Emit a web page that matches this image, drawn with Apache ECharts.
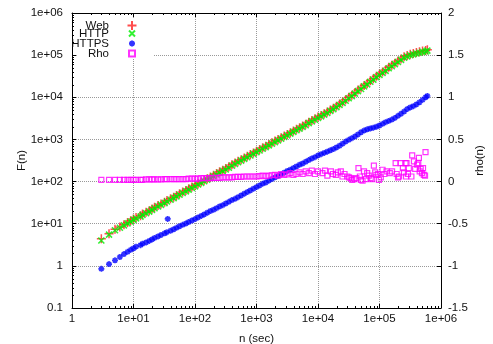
<!DOCTYPE html>
<html>
<head>
<meta charset="utf-8">
<script src="https://cdn.jsdelivr.net/npm/echarts@6/dist/echarts.min.js"></script>
<style>
html, body { margin: 0; padding: 0; background: #fff; }
#chart { width: 493px; height: 344px; }
</style>
</head>
<body>
<div id="chart"></div>
<script>
// n (sec), shared by Web / HTTP / HTTPS
var nValues = [3, 4, 5, 6, 7, 8, 9,
    10, 11, 13, 14, 16, 18, 20, 22, 25, 28, 32, 35, 40, 45, 50, 56, 63, 71, 79, 89,
    100, 112, 126, 141, 158, 178, 200, 224, 251, 282, 316, 355, 398, 447, 501, 562, 631, 708, 794, 891,
    1000, 1122, 1259, 1413, 1585, 1778, 1995, 2239, 2512, 2818, 3162, 3548, 3981, 4467, 5012, 5623, 6310, 7079, 7943, 8913,
    10000, 11220, 12589, 14125, 15849, 17783, 19953, 22387, 25119, 28184, 31623, 35481, 39811, 44668, 50119, 56234, 63096, 70795, 79433, 89125,
    100000, 112202, 125893, 141254, 158489, 177828, 199526, 223872, 251189, 281838, 316228, 354813, 398107, 446684, 501187, 562341, 600000];

var webF = [4.4, 5.8, 7.4, 8.3, 9.5, 10.7, 11.7,
    12.9, 14.1, 15.5, 17.0, 18.6, 20.4, 22.4, 24.5, 26.9, 29.5, 32.4, 35.5, 38.9, 42.7, 46.8, 51.3, 56.2, 61.7, 67.6, 74.1,
    81, 89, 98, 107, 117, 129, 141, 155, 170, 186, 204, 224, 251, 275, 302, 331, 363, 398, 437, 479,
    525, 575, 631, 692, 759, 832, 912, 1000, 1096, 1202, 1318, 1445, 1585, 1738, 1905, 2089, 2291, 2570, 2818, 3090,
    3388, 3715, 4074, 4467, 5012, 5495, 6166, 6918, 7762, 8710, 10000, 11220, 12880, 14790, 16600, 19050, 21380, 24550, 27540, 31620,
    35480, 39810, 44670, 51290, 57540, 64570, 72440, 81280, 91200, 97720, 104700, 109600, 114800, 120200, 125900, 128800, 134900];

var httpF = [4.0, 5.5, 7.0, 8.0, 9.1, 10.2, 11.2,
    12.3, 13.4, 14.7, 16.2, 17.7, 19.4, 21.3, 23.3, 25.6, 28.0, 30.8, 33.7, 37.0, 40.6, 44.5, 48.7, 53.4, 58.6, 64.2, 70.4,
    77, 85, 93, 102, 111, 123, 134, 147, 162, 177, 194, 213, 238, 261, 287, 314, 345, 378, 415, 455,
    499, 546, 599, 657, 721, 790, 866, 950, 1041, 1142, 1252, 1373, 1506, 1651, 1810, 1985, 2176, 2442, 2677, 2936,
    3219, 3529, 3870, 4244, 4761, 5220, 5858, 6572, 7374, 8275, 9500, 10660, 12240, 14050, 15770, 18100, 20310, 23320, 26160, 30040,
    33710, 37820, 42440, 48730, 54660, 61340, 68820, 77220, 86640, 92830, 99470, 104100, 109100, 114200, 119600, 122400, 128200];

var httpsF = [0.85, 1.1, 1.35, 1.62, 1.9, 2.15, 2.4,
    2.6, 2.85, 3.1, 3.35, 3.6, 3.9, 4.25, 4.6, 5.0, 5.4, 5.9, 6.3, 6.8, 7.4, 8.0, 8.7, 9.4, 10.1, 11.0, 11.9,
    12.9, 14.1, 15.3, 16.6, 18.2, 20.0, 21.4, 23.4, 25.7, 27.5, 30.2, 33.1, 36.3, 38.9, 42.7, 46.8, 51.3, 56.2, 61.7, 67.6,
    74.1, 81, 89, 95, 105, 115, 126, 135, 148, 162, 178, 191, 209, 229, 251, 269, 295, 324, 355, 380,
    417, 447, 479, 513, 550, 589, 646, 708, 794, 891, 977, 1072, 1175, 1318, 1479, 1622, 1738, 1820, 1905, 1995,
    2138, 2344, 2570, 2754, 2951, 3236, 3631, 4074, 4571, 5248, 5754, 6166, 6761, 7586, 8710, 10000, 10720];

// stray HTTPS point
var httpsOutlierN = [36];
var httpsOutlierF = [13];

// rho(n) for n = 3 .. 1e4 (same n as above)
var rhoMain = [0.02, 0.02, 0.02, 0.02, 0.02, 0.02, 0.02,
    0.02, 0.02, 0.02, 0.02, 0.025, 0.025, 0.025, 0.025, 0.025, 0.025, 0.03, 0.03, 0.03, 0.03, 0.03, 0.03, 0.03, 0.03, 0.035, 0.035,
    0.035, 0.035, 0.04, 0.04, 0.04, 0.04, 0.045, 0.045, 0.045, 0.05, 0.05, 0.05, 0.05, 0.055, 0.055, 0.055, 0.06, 0.06, 0.06, 0.06,
    0.06, 0.065, 0.07, 0.065, 0.07, 0.075, 0.08, 0.07, 0.09, 0.08, 0.085, 0.1, 0.08, 0.09, 0.11, 0.09, 0.12, 0.1, 0.13, 0.09,
    0.12];

// rho(n) scatter for large n
var rhoTailN = [11800, 13000, 14200, 16200, 17500, 19500, 21000, 23500, 25000, 27000, 30000, 32000, 34000, 36000, 39000,
    42000, 45500, 48000, 50000, 53000, 56000, 60000, 63000, 67000, 72000, 76000, 81000, 85000, 89000, 95000, 98000,
    105000, 112000, 120000, 130000, 147000, 160000, 183000, 190000, 200000, 208000, 220000, 240000, 250000, 265000,
    270000, 275000, 290000, 300000, 330000, 340000, 363000, 380000, 410000, 427000, 437000, 450000, 468000, 490000,
    510000, 525000, 550000, 560000];
var rhoTailV = [0.10, 0.13, 0.07, 0.12, 0.09, 0.08, 0.11, 0.12, 0.06, 0.09, 0.06, 0.05, 0.04, 0.02, 0.03,
    0.04, 0.16, 0.06, 0.02, 0.01, 0.12, 0.03, 0.10, 0.07, 0.04, 0.03, 0.19, 0.11, 0.08, 0.09, 0.02,
    0.05, 0.14, 0.09, 0.12, 0.10, 0.12, 0.22, 0.09, 0.05, 0.06, 0.22, 0.16, 0.11, 0.22,
    0.06, 0.22, 0.09, 0.16, 0.06, 0.31, 0.24, 0.15, 0.20, 0.22, 0.28, 0.12, 0.15, 0.10,
    0.16, 0.08, 0.07, 0.35];

function pairs(xs, ys) {
    return ys.map(function (y, i) { return [xs[i], y]; });
}

var symPlus = 'path://M0,5L10,5M5,0L5,10';
var symCross = 'path://M0,0L10,10M0,10L10,0';
var symStar = 'path://M0,5L10,5M5,0L5,10M1.5,1.5L8.5,8.5M1.5,8.5L8.5,1.5';

var font = 'Liberation Sans';
var txt = '#111';

function logLabel(v) {
    if (v < 0.5) return '0.1';
    if (v < 5) return '1';
    return '1e+0' + Math.round(Math.log10(v));
}

function legendItem(name, top, size) {
    var iconLeft = 133 - size / 2;
    return {
        data: [name],
        orient: 'vertical',
        align: 'right',
        right: 493 - (iconLeft + size),
        top: top,
        padding: 0,
        itemWidth: size,
        itemHeight: size,
        selectedMode: false,
        textStyle: {
            fontFamily: font, fontSize: 11.5, color: txt,
            padding: [0, iconLeft - 5 - 110, 0, 0]
        }
    };
}

var chart = echarts.init(document.getElementById('chart'));
var option = {
    animation: false,
    textStyle: { fontFamily: font },
    grid: { left: 72, right: 52, top: 13, bottom: 36, outerBoundsMode: 'none' },
    legend: [
        legendItem('Web', 19.5, 9),
        legendItem('HTTP', 27.5, 6),
        legendItem('HTTPS', 37.5, 6),
        legendItem('Rho', 47.5, 6)
    ],
    graphic: [],
    xAxis: [
        {
            type: 'log', min: 1, max: 1e6,
            name: 'n (sec)', nameLocation: 'middle', nameGap: 25, nameMoveOverlap: false,
            nameTextStyle: { fontSize: 11.5, color: txt },
            axisLine: { onZero: false, lineStyle: { color: '#000', width: 1 } },
            axisTick: { inside: true, length: 4, lineStyle: { color: '#000' } },
            axisLabel: { fontSize: 11.5, color: txt, margin: 5, formatter: logLabel, showMinLabel: true, showMaxLabel: true },
            splitLine: { show: true, lineStyle: { color: '#999', type: [1, 1] } }
        },
        {
            type: 'log', min: 1, max: 1e6, position: 'top',
            axisLine: { onZero: false, lineStyle: { color: '#000', width: 1 } },
            axisTick: { inside: true, length: 4, lineStyle: { color: '#000' } },
            axisLabel: { show: false },
            splitLine: { show: false }
        }
    ],
    yAxis: [
        {
            type: 'log', min: 0.1, max: 1e6,
            name: 'F(n)', nameLocation: 'middle', nameGap: 44, nameRotate: 90, nameMoveOverlap: false,
            nameTextStyle: { fontSize: 11.5, color: txt },
            axisLine: { show: true, onZero: false, lineStyle: { color: '#000', width: 1 } },
            axisTick: { show: true, inside: true, length: 4, lineStyle: { color: '#000' } },
            axisLabel: { fontSize: 11.5, color: txt, margin: 9, formatter: logLabel },
            splitLine: { show: true, lineStyle: { color: '#999', type: [1, 1] } }
        },
        {
            type: 'value', min: -1.5, max: 2, interval: 0.5, position: 'right',
            name: 'rho(n)', nameLocation: 'middle', nameGap: 33, nameRotate: 90, nameMoveOverlap: false,
            nameTextStyle: { fontSize: 11.5, color: txt },
            axisLine: { show: true, onZero: false, lineStyle: { color: '#000', width: 1 } },
            axisTick: { show: true, inside: true, length: 4, lineStyle: { color: '#000' } },
            axisLabel: { fontSize: 11.5, color: txt, margin: 7 },
            splitLine: { show: false }
        }
    ],
    series: [
        {
            name: 'Web', type: 'scatter', symbol: symPlus, symbolSize: 9,
            itemStyle: { color: 'rgba(0,0,0,0)', borderColor: '#ff2020', borderWidth: 1.5 },
            data: pairs(nValues, webF)
        },
        {
            name: 'HTTP', type: 'scatter', symbol: symCross, symbolSize: 6,
            itemStyle: { color: 'rgba(0,0,0,0)', borderColor: '#00ee00', borderWidth: 1.6 },
            data: pairs(nValues, httpF)
        },
        {
            name: 'HTTPS', type: 'scatter', symbol: symStar, symbolSize: 6,
            itemStyle: { color: 'rgba(0,0,0,0)', borderColor: '#0000ff', borderWidth: 1.6 },
            data: pairs(nValues, httpsF).concat(pairs(httpsOutlierN, httpsOutlierF))
        },
        {
            name: 'Rho', type: 'scatter', symbol: 'rect', symbolSize: 5, yAxisIndex: 1,
            itemStyle: { color: 'rgba(0,0,0,0)', borderColor: '#ff00ff', borderWidth: 1.2 },
            data: pairs(nValues, rhoMain).concat(pairs(rhoTailN, rhoTailV))
        }
    ]
};
chart.setOption(option);

// white box behind the key, and gnuplot-style minor ticks at 2..9 per decade
var xL = chart.convertToPixel({ xAxisIndex: 0 }, 1);
var yB = chart.convertToPixel({ yAxisIndex: 0 }, 0.1);
var yT = chart.convertToPixel({ yAxisIndex: 0 }, 1e6);
var g = [{
    type: 'rect', z: 1, silent: true,
    shape: { x: xL + 5, y: yT + 5, width: 153 - xL - 5, height: 58 - yT - 5 },
    style: { fill: '#fff' }
}];
var tickStyle = { stroke: '#000', lineWidth: 1 };
for (var k = 0; k < 6; k++) {
    for (var m = 2; m < 10; m++) {
        var px = Math.round(chart.convertToPixel({ xAxisIndex: 0 }, m * Math.pow(10, k))) + 0.5;
        g.push({ type: 'line', z: 5, silent: true, shape: { x1: px, y1: yB, x2: px, y2: yB - 2 }, style: tickStyle });
        g.push({ type: 'line', z: 5, silent: true, shape: { x1: px, y1: yT, x2: px, y2: yT + 2 }, style: tickStyle });
    }
}
for (var j = -1; j < 6; j++) {
    for (var mm = 2; mm < 10; mm++) {
        var py = Math.round(chart.convertToPixel({ yAxisIndex: 0 }, mm * Math.pow(10, j))) + 0.5;
        g.push({ type: 'line', z: 5, silent: true, shape: { x1: xL, y1: py, x2: xL + 2, y2: py }, style: tickStyle });
    }
}
chart.setOption({ graphic: g });
</script>
</body>
</html>
